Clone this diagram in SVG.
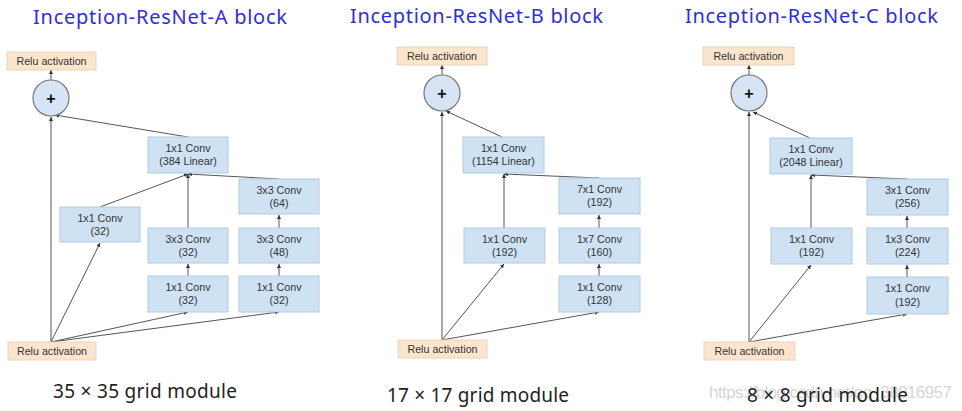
<svg xmlns="http://www.w3.org/2000/svg" width="962" height="411" viewBox="0 0 962 411">
<style>
.title{font-family:"Noto Sans","Open Sans",sans-serif;font-size:20px;fill:#2f2fd8}
.cap{font-family:"Noto Sans","Open Sans",sans-serif;font-size:19px;fill:#222}
.wm{font-family:"Liberation Sans",Arial,sans-serif;font-size:17px;fill:#d6d6d6}
.box{fill:#cfe2f3;stroke:#b4c9e0;stroke-width:1}
.relu{fill:#fce5cd;stroke:#e8d3bd;stroke-width:1}
.circ{fill:#d6e4f5;stroke:#777;stroke-width:1.2}
.t{font-family:"Liberation Sans",Arial,sans-serif;font-size:10.7px;fill:#333;text-anchor:middle}
.plus{font-family:"Liberation Sans",Arial,sans-serif;font-size:16px;font-weight:bold;fill:#111;text-anchor:middle}
.c line{stroke:#555;stroke-width:1;marker-end:url(#ah)}
</style>
<defs>
<marker id="ah" viewBox="0 0 6 6" refX="6" refY="3" markerWidth="4" markerHeight="4" orient="auto">
<path d="M0,0 L6,3 L0,6 z" fill="#333"/>
</marker>
</defs>
<rect width="962" height="411" fill="#fff"/>
<!-- titles -->
<text class="title" x="33" y="24" textLength="254">Inception-ResNet-A block</text>
<text class="title" x="350" y="23" textLength="253">Inception-ResNet-B block</text>
<text class="title" x="685" y="23" textLength="253">Inception-ResNet-C block</text>

<!-- Panel A -->
<g class="c" id="connA">
<line x1="51" y1="342" x2="51" y2="117"/>
<line x1="51" y1="342" x2="100" y2="243"/>
<line x1="51" y1="342" x2="188" y2="312"/>
<line x1="51" y1="342" x2="279" y2="312"/>
<line x1="100" y1="207" x2="188" y2="174"/>
<line x1="188" y1="228" x2="188" y2="174"/>
<line x1="279" y1="179" x2="188" y2="174"/>
<line x1="279" y1="228" x2="279" y2="215"/>
<line x1="188" y1="276" x2="188" y2="264"/>
<line x1="279" y1="276" x2="279" y2="264"/>
<line x1="188" y1="137" x2="55" y2="115"/>
<line x1="51" y1="80" x2="51" y2="70"/>
</g>
<g id="A_relu_top"><rect class="relu" x="7" y="52" width="89" height="18"/><text class="t" x="51.5" y="65">Relu activation</text></g>
<g id="A_add"><circle class="circ" cx="51" cy="98" r="18"/><text class="plus" x="51" y="104">+</text></g>
<g id="A_lin"><rect class="box" x="148" y="137" width="80" height="36"/><text class="t" x="188" y="152">1x1 Conv</text><text class="t" x="188" y="165">(384 Linear)</text></g>
<g id="A_b1"><rect class="box" x="60" y="207" width="80" height="35"/><text class="t" x="100" y="222">1x1 Conv</text><text class="t" x="100" y="235">(32)</text></g>
<g id="A_b2b"><rect class="box" x="148" y="228" width="80" height="35"/><text class="t" x="188" y="243">3x3 Conv</text><text class="t" x="188" y="256">(32)</text></g>
<g id="A_b2a"><rect class="box" x="148" y="276" width="80" height="36"/><text class="t" x="188" y="291">1x1 Conv</text><text class="t" x="188" y="304">(32)</text></g>
<g id="A_b3c"><rect class="box" x="239" y="179" width="80" height="35"/><text class="t" x="279" y="194">3x3 Conv</text><text class="t" x="279" y="207">(64)</text></g>
<g id="A_b3b"><rect class="box" x="239" y="228" width="80" height="35"/><text class="t" x="279" y="243">3x3 Conv</text><text class="t" x="279" y="256">(48)</text></g>
<g id="A_b3a"><rect class="box" x="239" y="276" width="80" height="36"/><text class="t" x="279" y="291">1x1 Conv</text><text class="t" x="279" y="304">(32)</text></g>
<g id="A_relu_bot"><rect class="relu" x="8" y="342" width="88" height="18"/><text class="t" x="52" y="355">Relu activation</text></g>
<text class="cap" x="53" y="398" textLength="184">35 × 35 grid module</text>

<!-- Panel B -->
<g class="c" id="connB">
<line x1="442" y1="340" x2="442" y2="112"/>
<line x1="442" y1="340" x2="504" y2="264"/>
<line x1="442" y1="340" x2="599" y2="312"/>
<line x1="504" y1="228" x2="504" y2="174"/>
<line x1="599" y1="178" x2="504" y2="174"/>
<line x1="599" y1="228" x2="599" y2="215"/>
<line x1="599" y1="276" x2="599" y2="264"/>
<line x1="502" y1="137" x2="446" y2="111"/>
<line x1="442" y1="75" x2="442" y2="65"/>
</g>
<g id="B_relu_top"><rect class="relu" x="397" y="47" width="90" height="18"/><text class="t" x="442" y="60">Relu activation</text></g>
<g id="B_add"><circle class="circ" cx="442" cy="93" r="18"/><text class="plus" x="442" y="99">+</text></g>
<g id="B_lin"><rect class="box" x="463" y="137" width="81" height="36"/><text class="t" x="503.5" y="152">1x1 Conv</text><text class="t" x="503.5" y="165">(1154 Linear)</text></g>
<g id="B_b1"><rect class="box" x="464" y="228" width="81" height="35"/><text class="t" x="504.5" y="243">1x1 Conv</text><text class="t" x="504.5" y="256">(192)</text></g>
<g id="B_b2c"><rect class="box" x="559" y="178" width="81" height="36"/><text class="t" x="599.5" y="193">7x1 Conv</text><text class="t" x="599.5" y="206">(192)</text></g>
<g id="B_b2b"><rect class="box" x="559" y="228" width="81" height="35"/><text class="t" x="599.5" y="243">1x7 Conv</text><text class="t" x="599.5" y="256">(160)</text></g>
<g id="B_b2a"><rect class="box" x="559" y="276" width="81" height="36"/><text class="t" x="599.5" y="291">1x1 Conv</text><text class="t" x="599.5" y="304">(128)</text></g>
<g id="B_relu_bot"><rect class="relu" x="398" y="340" width="89" height="18"/><text class="t" x="442.5" y="353">Relu activation</text></g>
<text class="cap" x="387" y="402" textLength="182">17 × 17 grid module</text>

<!-- Panel C -->
<g class="c" id="connC">
<line x1="749" y1="342" x2="749" y2="112"/>
<line x1="749" y1="342" x2="811" y2="265"/>
<line x1="749" y1="342" x2="907" y2="314"/>
<line x1="811" y1="228" x2="811" y2="175"/>
<line x1="907" y1="179" x2="811" y2="175"/>
<line x1="907" y1="228" x2="907" y2="216"/>
<line x1="907" y1="277" x2="907" y2="265"/>
<line x1="810" y1="138" x2="753" y2="112"/>
<line x1="749" y1="75" x2="749" y2="65"/>
</g>
<g id="C_relu_top"><rect class="relu" x="703" y="47" width="91" height="18"/><text class="t" x="748.5" y="60">Relu activation</text></g>
<g id="C_add"><circle class="circ" cx="749" cy="93" r="18"/><text class="plus" x="749" y="99">+</text></g>
<g id="C_lin"><rect class="box" x="770" y="138" width="82" height="36"/><text class="t" x="811" y="153">1x1 Conv</text><text class="t" x="811" y="166">(2048 Linear)</text></g>
<g id="C_b1"><rect class="box" x="771" y="228" width="81" height="36"/><text class="t" x="811.5" y="243">1x1 Conv</text><text class="t" x="811.5" y="256">(192)</text></g>
<g id="C_b2c"><rect class="box" x="867" y="179" width="81" height="36"/><text class="t" x="907.5" y="194">3x1 Conv</text><text class="t" x="907.5" y="207">(256)</text></g>
<g id="C_b2b"><rect class="box" x="867" y="228" width="81" height="36"/><text class="t" x="907.5" y="243">1x3 Conv</text><text class="t" x="907.5" y="256">(224)</text></g>
<g id="C_b2a"><rect class="box" x="867" y="277" width="81" height="37"/><text class="t" x="907.5" y="292">1x1 Conv</text><text class="t" x="907.5" y="306">(192)</text></g>
<g id="C_relu_bot"><rect class="relu" x="704" y="342" width="91" height="18"/><text class="t" x="749.5" y="355">Relu activation</text></g>
<text class="wm" x="709" y="398" textLength="243">https://blog.csdn.net/qq_38016957</text>
<text class="cap" x="747" y="402" textLength="161">8 × 8 grid module</text>
</svg>
